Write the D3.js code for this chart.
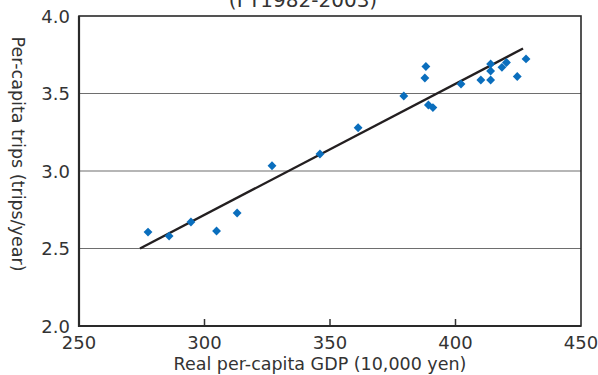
<!DOCTYPE html>
<html>
<head>
<meta charset="utf-8">
<script src="https://cdn.jsdelivr.net/npm/d3@7"></script>
<style>
  body { margin: 0; background: #fff; }
  svg { font-family: "DejaVu Sans", "Liberation Sans", sans-serif; }
</style>
</head>
<body>
<svg id="chart" width="598" height="375"></svg>
<script>
// real per-capita GDP (10,000 yen), FY1982-2003
const gdp = [277.5, 285.9, 294.6, 304.8, 313.0, 326.9, 346.0, 361.2, 379.4, 388.2, 387.8,
             389.2, 391.0, 402.2, 410.1, 414.0, 414.0, 414.0, 418.5, 420.3, 424.6, 428.1];
// per-capita trips (trips/year)
const trips = [2.606, 2.580, 2.671, 2.613, 2.729, 3.034, 3.110, 3.279, 3.484, 3.674, 3.600,
               3.426, 3.409, 3.561, 3.587, 3.587, 3.645, 3.690, 3.669, 3.700, 3.610, 3.723];
// fitted line end points
const fitX = [274.3, 426.9];
const fitY = [2.50, 3.79];

const xTicks = [250, 300, 350, 400, 450];
const yTicks = [2.0, 2.5, 3.0, 3.5, 4.0];

const svg = d3.select("#chart");
const pL = 79, pR = 581, pT = 16, pB = 326;

const x = d3.scaleLinear().domain([250, 450]).range([pL, pR]);
const y = d3.scaleLinear().domain([2.0, 4.0]).range([pB, pT]);

// gridlines
svg.append("g")
  .selectAll("line")
  .data(yTicks.filter(d => d > 2.0 && d < 4.0))
  .enter().append("line")
    .attr("x1", pL).attr("x2", pR)
    .attr("y1", d => y(d)).attr("y2", d => y(d))
    .attr("stroke", "#6e6e6e").attr("stroke-width", 1.2);

// x ticks (inside, at bottom)
svg.append("g")
  .selectAll("line")
  .data(xTicks.filter(d => d > 250 && d < 450))
  .enter().append("line")
    .attr("x1", d => x(d)).attr("x2", d => x(d))
    .attr("y1", pB).attr("y2", pB - 7)
    .attr("stroke", "#333").attr("stroke-width", 1.5);

// frame
svg.append("rect")
  .attr("x", pL).attr("y", pT)
  .attr("width", pR - pL).attr("height", pB - pT)
  .attr("fill", "none").attr("stroke", "#2a2a2a").attr("stroke-width", 1.6);
svg.append("path")
  .attr("d", `M${pL},${pT}V${pB}H${pR}`)
  .attr("fill", "none").attr("stroke", "#2a2a2a").attr("stroke-width", 2.2);

// tick labels
svg.append("g")
  .selectAll("text")
  .data(xTicks)
  .enter().append("text")
    .attr("x", d => x(d)).attr("y", 349)
    .attr("text-anchor", "middle")
    .attr("font-size", 18).attr("fill", "#333")
    .text(d => d);

svg.append("g")
  .selectAll("text")
  .data(yTicks)
  .enter().append("text")
    .attr("x", 70).attr("y", d => y(d) + 6.5)
    .attr("text-anchor", "end")
    .attr("font-size", 18).attr("fill", "#333")
    .text(d => d.toFixed(1));

// fitted line
svg.append("line")
  .attr("x1", x(fitX[0])).attr("y1", y(fitY[0]))
  .attr("x2", x(fitX[1])).attr("y2", y(fitY[1]))
  .attr("stroke", "#231f20").attr("stroke-width", 2.4);

// points
const diamond = d3.symbol().type(d3.symbolDiamond2).size(50);
svg.append("g")
  .selectAll("path")
  .data(gdp.map((g, i) => [g, trips[i]]))
  .enter().append("path")
    .attr("d", diamond)
    .attr("transform", d => `translate(${x(d[0])},${y(d[1])})`)
    .attr("fill", "#0a6ebd");

// axis titles
svg.append("text")
  .attr("x", 320).attr("y", 370)
  .attr("text-anchor", "middle")
  .attr("font-size", 17.5).attr("fill", "#333")
  .text("Real per-capita GDP (10,000 yen)");

svg.append("text")
  .attr("transform", "translate(12,154) rotate(90)")
  .attr("text-anchor", "middle")
  .attr("font-size", 17.5).attr("fill", "#333")
  .text("Per-capita trips (trips/year)");

// title (clipped at top)
svg.append("text")
  .attr("x", 303).attr("y", 7)
  .attr("text-anchor", "middle")
  .attr("font-size", 20).attr("fill", "#333")
  .text("(FY1982-2003)");
</script>
</body>
</html>
